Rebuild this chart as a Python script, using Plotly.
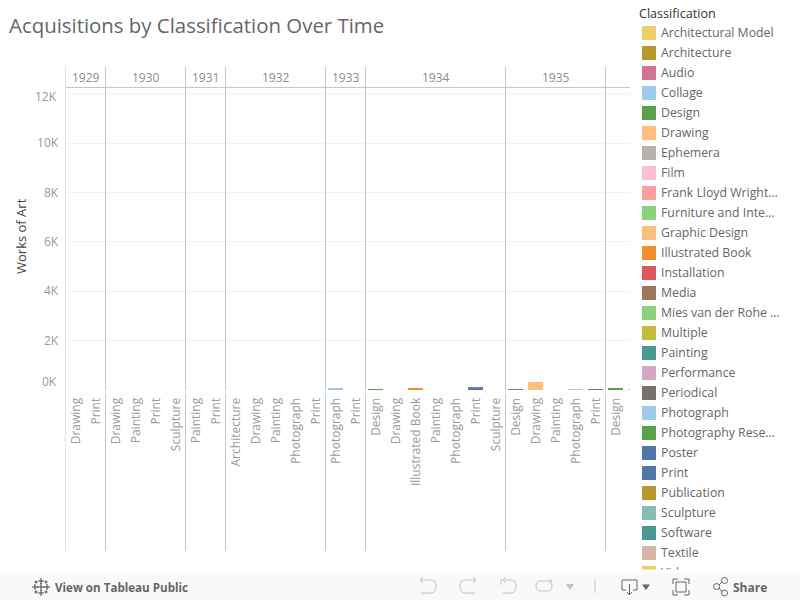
import plotly.graph_objects as go

TITLE = "Acquisitions by Classification Over Time"
years = [1929, 1930, 1931, 1932, 1933, 1934, 1935, 1936]
year_classes = [
    ["Drawing", "Print"],
    ["Drawing", "Painting", "Print", "Sculpture"],
    ["Painting", "Print"],
    ["Architecture", "Drawing", "Painting", "Photograph", "Print"],
    ["Photograph", "Print"],
    ["Design", "Drawing", "Illustrated Book", "Painting", "Photograph", "Print", "Sculpture"],
    ["Design", "Drawing", "Painting", "Photograph", "Print"],
    ["Design", "Drawing"],
]
year_values = [
    [0, 0],
    [0, 0, 0, 0],
    [0, 0],
    [0, 0, 0, 0, 0],
    [70, 0],
    [35, 0, 75, 0, 0, 115, 0],
    [30, 320, 0, 25, 35],
    [75, 40],
]
legend_names = ["Architectural Model", "Architecture", "Audio", "Collage", "Design", "Drawing",
                "Ephemera", "Film", "Frank Lloyd Wright\u2026", "Furniture and Inte\u2026",
                "Graphic Design", "Illustrated Book", "Installation", "Media",
                "Mies van der Rohe \u2026", "Multiple", "Painting", "Performance", "Periodical",
                "Photograph", "Photography Rese\u2026", "Poster", "Print", "Publication",
                "Sculpture", "Software", "Textile", "Video"]
legend_colors = ["#F1CE63", "#B6992D", "#D37295", "#A0CBE8", "#59A14F", "#FFBE7D", "#BAB0AC",
                 "#FABFD2", "#FF9D9A", "#8CD17D", "#FFBE7D", "#F28E2B", "#E15759", "#9D7660",
                 "#8CD17D", "#C4BA3C", "#499894", "#D4A6C8", "#79706E", "#A0CBE8", "#59A14F",
                 "#4E79A7", "#4E79A7", "#B6992D", "#86BCB6", "#499894", "#D7B5A6", "#F1CE63"]
y_ticks = [2000, 4000, 6000, 8000, 10000, 12000]
y_labels = ["2K", "4K", "6K", "8K", "10K", ""]

FONT = "Open Sans"
LINE = "#c6c6c6"
CLEAR = "rgba(0,0,0,0)"
color_of = dict(zip(legend_names, legend_colors))

slot_labels, slot_values, slot_colors = [], [], []
year_bounds = [0]
for classes, vals in zip(year_classes, year_values):
    slot_labels += classes
    slot_values += vals
    slot_colors += [color_of[c] for c in classes]
    year_bounds.append(len(slot_labels))
slots = list(range(len(slot_labels)))

fig = go.Figure()
fig.add_bar(x=slots, y=slot_values, marker=dict(color=slot_colors, line=dict(width=0)),
            width=0.75, showlegend=False)

# legend: scatters on their own hidden axes so the rows come from the lists
rows = list(range(len(legend_names)))
fig.add_scatter(x=[0] * len(rows), y=rows, mode="markers",
                xaxis="x3", yaxis="y3", cliponaxis=False, showlegend=False,
                marker=dict(symbol="square", size=14, color=legend_colors, line=dict(width=0)))
fig.add_scatter(x=[12 / 151] * len(rows), y=[r + 0.05 for r in rows], mode="text",
                xaxis="x3", yaxis="y3", cliponaxis=False, showlegend=False,
                text=legend_names, textposition="middle right",
                textfont=dict(family=FONT, size=12.3, color="#666666"))
# empty trace that keeps the page-pixel helper axes alive
fig.add_scatter(x=[0, 800], y=[0, 600], mode="lines", line=dict(color=CLEAR, width=0),
                xaxis="x4", yaxis="y4", showlegend=False, hoverinfo="skip")

shapes = []
annotations = []
for b in year_bounds[:-1]:
    shapes.append(dict(type="line", xref="x", yref="paper", x0=b - 0.5, x1=b - 0.5,
                       y0=(600 - 67) / 600, y1=(600 - 551) / 600,
                       line=dict(color=LINE, width=1), layer="above"))
shapes.append(dict(type="line", xref="x", yref="paper", x0=-0.5, x1=27.75,
                   y0=(600 - 87.5) / 600, y1=(600 - 87.5) / 600,
                   line=dict(color=LINE, width=1), layer="above"))
for i in range(len(slots)):
    shapes.append(dict(type="line", xref="x", yref="paper", x0=i - 0.5, x1=i - 0.5,
                       y0=(600 - 390) / 600, y1=(600 - 394) / 600,
                       line=dict(color="#f0f0f0", width=1), layer="above"))

for i, yr in enumerate(years):
    a, b = year_bounds[i], year_bounds[i + 1]
    if yr != 1936:
        annotations.append(dict(x=(a + b - 1) / 2, xref="x", y=(600 - 77.5) / 600, yref="paper",
                                yanchor="middle", text=str(yr), showarrow=False,
                                font=dict(family=FONT, size=12, color="#8c8c8c")))

annotations += [
    dict(x=59, xref="x4", y=381.5, yref="y4", text="0K", xanchor="right", showarrow=False,
         font=dict(family=FONT, size=12, color="#999999")),
    dict(x=59, xref="x4", y=96, yref="y4", text="12K", xanchor="right", showarrow=False,
         font=dict(family=FONT, size=12, color="#999999")),
    dict(x=21, xref="x4", y=236, yref="y4", text="Works of Art", textangle=-90, showarrow=False,
         font=dict(family=FONT, size=13, color="#444444")),
    dict(x=7, xref="x4", y=25, yref="y4", text=TITLE, xanchor="left", showarrow=False,
         font=dict(family=FONT, size=20.4, color="#666666")),
    dict(x=637, xref="x4", y=13, yref="y4", text="Classification", xanchor="left", showarrow=False,
         font=dict(family=FONT, size=12.6, color="#333333")),
    dict(x=53, xref="x4", y=587, yref="y4", text="<b>View on Tableau Public</b>", xanchor="left",
         showarrow=False, font=dict(family=FONT, size=11.6, color="#666666")),
    dict(x=731, xref="x4", y=587, yref="y4", text="<b>Share</b>", xanchor="left",
         showarrow=False, font=dict(family=FONT, size=12, color="#666666")),
]

def px_shape(**kw):
    d = dict(xref="x4", yref="y4", layer="above")
    d.update(kw)
    shapes.append(d)

px_shape(type="rect", x0=632, x1=800, y0=569.5, y1=573, fillcolor="white", line=dict(width=0))
px_shape(type="rect", x0=0, x1=800, y0=573, y1=600, fillcolor="#f9f9f9", line=dict(width=0))
GREY, DARK = "#c4c4c4", "#666666"
icons = [
    ("M420 580 L423 577 M420 580 L423 583 M420 580 H431 Q436 580 436 586 Q436 593 431 593 H421", GREY),
    ("M476 580 L473 577 M476 580 L473 583 M476 580 H465 Q460 580 460 586 Q460 593 465 593 H475", GREY),
    ("M501 578 V585 M503 580 L506 577 M503 580 L506 583 M503 580 H511 Q516 580 516 586 Q516 593 511 593 H503", GREY),
    ("M540 581 H548 Q552 581 552 586 Q552 591 548 591 H541 Q536 591 536 586 Q536 581 540 581 M549 579 L552 581 L549 583", GREY),
    ("M595 579 V593", GREY),
    ("M626 590 H622 V580 H637 V590 H633 M629.5 584 V595 M627 592 L629.5 595 L632 592", DARK),
    ("M673 584 V579 H678 M684 579 H689 V584 M689 590 V595 H684 M678 595 H673 V590 M676 582 H686 V592 H676 Z", DARK),
    ("M719 585 L722 582 M719 588 L722 592", DARK),
]
for p, c in icons:
    px_shape(type="path", path=p, line=dict(color=c, width=1))
for p, c in [("M566 584 H574 L570 590 Z", GREY), ("M642 584.5 H650 L646 590 Z", DARK)]:
    px_shape(type="path", path=p, fillcolor=c, line=dict(width=0))
for cx, cy in [(716.5, 586.5), (724.5, 580.5), (724.5, 593)]:
    px_shape(type="circle", x0=cx - 3, x1=cx + 3, y0=cy - 3, y1=cy + 3,
             line=dict(color=DARK, width=1))
for cx, cy, r in [(41, 581, 3), (41, 593, 3), (35, 587, 3), (47, 587, 3), (41, 587, 4),
                  (36, 582, 1.5), (46, 582, 1.5), (36, 592, 1.5), (46, 592, 1.5)]:
    px_shape(type="path", path=f"M{cx - r} {cy} H{cx + r} M{cx} {cy - r} V{cy + r}",
             line=dict(color="#444444", width=1))

fig.update_layout(
    width=800, height=600, margin=dict(l=0, r=0, t=0, b=0), autosize=False,
    paper_bgcolor="white", plot_bgcolor=CLEAR, showlegend=False, bargap=0.25,
    font=dict(family=FONT),
    shapes=shapes, annotations=annotations,
    xaxis=dict(domain=[65.5 / 800, 630.5 / 800], range=[-0.5, 27.75], tickmode="array",
               tickvals=slots, ticktext=slot_labels, tickangle=-90, showgrid=False, zeroline=False,
               ticks="outside", ticklen=2, tickcolor=CLEAR, showline=False, automargin=False,
               ticklabelshift=1,
               tickfont=dict(family=FONT, size=12, color="#999999"), anchor="y"),
    yaxis=dict(domain=[210 / 600, 512 / 600], range=[0, 302 / 49.4 * 2000], tickmode="array",
               tickvals=y_ticks, ticktext=y_labels, showgrid=True, gridcolor="#f2f2f2", gridwidth=1,
               zeroline=False, showline=False, ticks="outside", ticklen=4, tickcolor=CLEAR,
               automargin=False, tickfont=dict(family=FONT, size=12, color="#999999"), anchor="x"),
    xaxis3=dict(domain=[649 / 800, 1], range=[0, 1], visible=False, anchor="y3"),
    yaxis3=dict(domain=[0, 1], range=[(600 - 33) / 20, -33 / 20], visible=False, anchor="x3"),
    xaxis4=dict(domain=[0, 1], range=[0, 800], visible=False, anchor="y4"),
    yaxis4=dict(domain=[0, 1], range=[600, 0], visible=False, anchor="x4"),
)

fig.write_html("out.html", config={"displayModeBar": False},
               post_script="document.body.style.margin='0';")
